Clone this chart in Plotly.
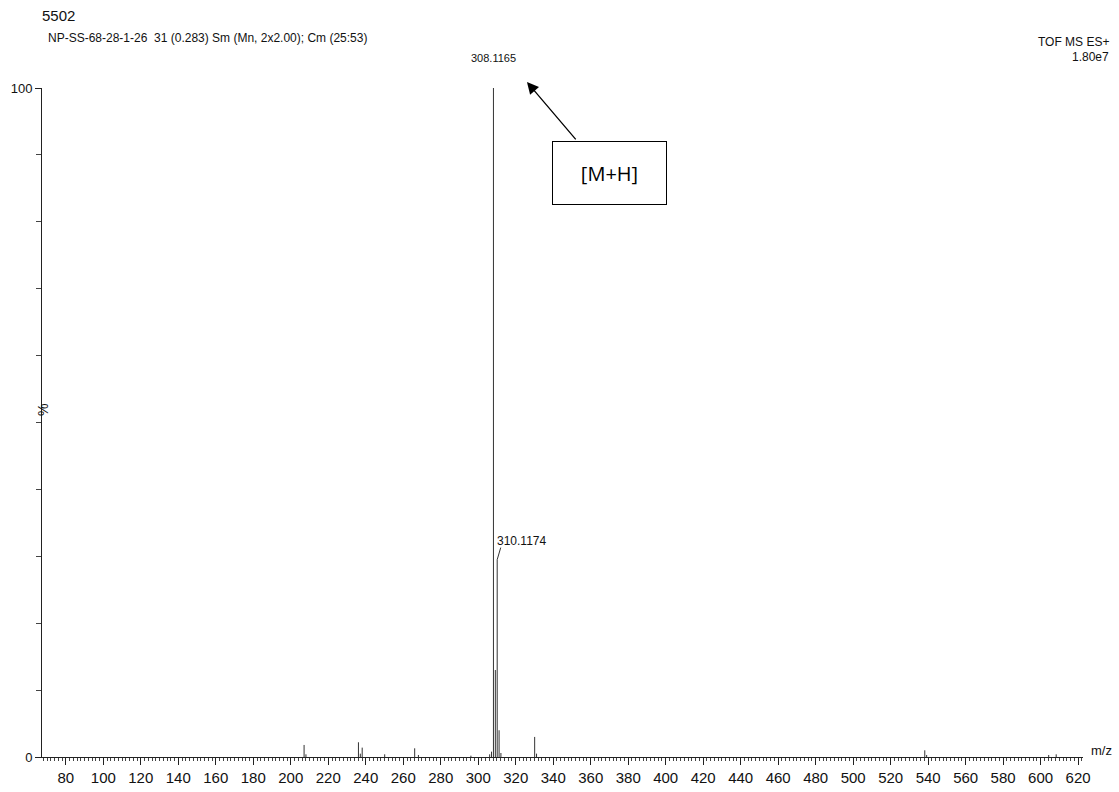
import plotly.graph_objects as go

# ---- data ----
mz = [207.1, 208.1, 236.1, 237.1, 238.1, 250.1, 266.1, 268.1, 296.1,
      306.1, 307.1, 308.1165, 309.12, 310.1174, 311.12, 312.1,
      330.1, 331.1, 538.2, 539.2, 604.3, 608.3]
intensity = [1.8, 0.4, 2.2, 0.5, 1.4, 0.4, 1.3, 0.3, 0.2,
             0.4, 0.8, 100.0, 13.0, 29.5, 4.0, 0.6,
             3.0, 0.5, 1.0, 0.3, 0.3, 0.4]
x_tick_vals = list(range(80, 621, 20))
y_tick_vals = [0, 100]
labelled_peaks = {"308.1165": 308.1165, "310.1174": 310.1174}

W, H = 1119, 792
L, R, T, B = 42, 36, 88, 35
PW, PH = W - L - R, H - T - B
XR = [67.3, 622.6]


def px(xp):
    return (xp - L) / PW


def py(yp):
    return 1 - (yp - T) / PH


# stick spectrum built from the arrays
xs, ys = [], []
for m, v in zip(mz, intensity):
    xs += [m, m, None]
    ys += [0, v, None]

fig = go.Figure()
fig.add_trace(go.Scatter(x=xs, y=ys, mode="lines",
                         line=dict(color="#333333", width=1),
                         hoverinfo="skip", showlegend=False))

font = "Liberation Sans, Arial, sans-serif"

fig.update_layout(
    width=W, height=H, autosize=False,
    margin=dict(l=L, r=R, t=T, b=B),
    paper_bgcolor="white", plot_bgcolor="white",
    font=dict(family=font, color="#111111", size=14),
    xaxis=dict(range=XR, showline=True, linecolor="#222222", linewidth=1,
               showgrid=False, zeroline=False, tickmode="array",
               automargin=False,
               tickvals=x_tick_vals, ticks="outside", ticklen=7,
               tickcolor="#222222", tickfont=dict(size=15, family=font),
               minor=dict(dtick=2, tick0=0, ticklen=3, ticks="outside",
                          tickcolor="#444444", showgrid=False)),
    yaxis=dict(range=[0, 100], showline=True, linecolor="#222222", linewidth=1,
               showgrid=False, zeroline=False, tickmode="array",
               automargin=False,
               tickvals=y_tick_vals, ticks="outside", ticklen=6,
               tickcolor="#222222", tickfont=dict(size=13, family=font),
               minor=dict(dtick=10, tick0=0, ticklen=5, ticks="outside",
                          tickcolor="#444444", showgrid=False)),
)

ann = []
# header texts
ann.append(dict(text="5502", x=px(40), y=py(16), xref="paper", yref="paper",
                xanchor="left", yanchor="middle", showarrow=False,
                font=dict(size=15, family=font)))
ann.append(dict(text="NP-SS-68-28-1-26  31 (0.283) Sm (Mn, 2x2.00); Cm (25:53)",
                x=px(46), y=py(38), xref="paper", yref="paper",
                xanchor="left", yanchor="middle", showarrow=False,
                font=dict(size=12, family=font)))
ann.append(dict(text="TOF MS ES+", x=px(1111), y=py(42), xref="paper",
                yref="paper", xanchor="right", yanchor="middle",
                showarrow=False, font=dict(size=12, family=font)))
ann.append(dict(text="1.80e7", x=px(1111), y=py(57), xref="paper",
                yref="paper", xanchor="right", yanchor="middle",
                showarrow=False, font=dict(size=12, family=font)))
# axis titles
ann.append(dict(text="%", x=px(33), y=py(410), xref="paper", yref="paper",
                textangle=-90, showarrow=False, font=dict(size=14, family=font)))
ann.append(dict(text="m/z", x=px(1089), y=py(750), xref="paper", yref="paper",
                xanchor="left", yanchor="middle", showarrow=False,
                font=dict(size=13, family=font)))
# peak labels
ann.append(dict(text="308.1165", x=labelled_peaks["308.1165"], y=100,
                xref="x", yref="y", xanchor="center", yanchor="bottom",
                yshift=22, showarrow=False, font=dict(size=11, family=font)))
ann.append(dict(text="310.1174", x=labelled_peaks["310.1174"], y=32.3,
                xref="x", yref="y", xanchor="left", yanchor="middle",
                xshift=-2, showarrow=False, font=dict(size=12, family=font)))
# [M+H] box and arrow
ann.append(dict(text="", x=326.0, y=100.9, xref="x", yref="y",
                ax=352.7, ay=92.1, axref="x", ayref="y",
                showarrow=True, arrowhead=2, arrowsize=1.8, arrowwidth=1.3,
                arrowcolor="black", standoff=0))
ann.append(dict(text="[M+H]", x=(339.3 + 400.7) / 2, y=(92.1 + 82.6) / 2,
                xref="x", yref="y", showarrow=False, width=113, height=62,
                bordercolor="black", borderwidth=1, borderpad=0,
                bgcolor="white", font=dict(size=20, family="Open Sans, sans-serif",
                                           color="black")))
fig.update_layout(annotations=ann)

# leader line for 310.1174
fig.add_shape(type="line", x0=310.1174, y0=29.5, x1=312.0, y1=31.3,
              xref="x", yref="y", line=dict(color="#333333", width=1))

fig.write_html("out.html", config={"displayModeBar": False},
               post_script="document.body.style.margin='0';document.body.style.overflow='hidden';")
